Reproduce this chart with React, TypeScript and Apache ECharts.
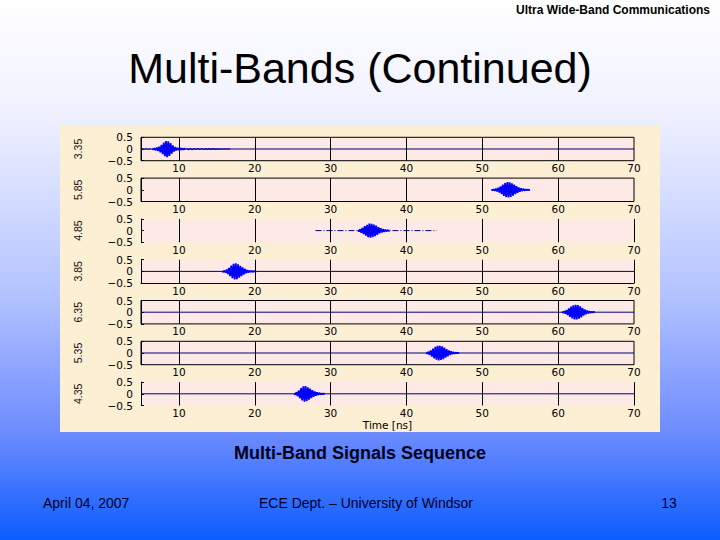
import React, { useEffect, useRef } from "react";
import * as echarts from "echarts";

// ---------- data ----------
const X_MIN = 5;
const X_MAX = 70;
const GRID_X = [10, 20, 30, 40, 50, 60];
const BAND_LABELS = ["3.35", "5.85", "4.85", "3.85", "6.35", "5.35", "4.35"];

// full zero-line span per subplot (null = none)
const ZERO_SPAN: (number[] | null)[] = [[5, 70], null, null, [5, 70], [5, 70], [5, 70], [5, 70]];
// dash-dot segment of subplot 3
const DASH_SPAN = [28, 44];

const PULSE_STEP = 0.15;
const PULSE_START = [6.5, 51.2, 33.6, 15.7, 60.5, 42.6, 25.2];
const PULSE_VALUES: number[][] = [
  [0.02, -0.03, 0.03, -0.05, 0.06, -0.08, 0.1, -0.14, 0.18, -0.22, 0.27, -0.31, 0.34, -0.35, 0.33, -0.3, 0.25, -0.2, 0.15, -0.11, 0.08, -0.06, 0.05, -0.04, 0.04, -0.03, 0.03, -0.03, 0.02, -0.02],
  [0.01, -0.02, 0.02, -0.04, 0.05, -0.07, 0.09, -0.12, 0.15, -0.19, 0.22, -0.26, 0.29, -0.31, 0.33, -0.33, 0.32, -0.3, 0.28, -0.25, 0.22, -0.19, 0.16, -0.13, 0.1, -0.08, 0.06, -0.05, 0.04, -0.03, 0.02, -0.02, 0.01, -0.01, 0],
  [0.02, -0.04, 0.06, -0.09, 0.12, -0.15, 0.19, -0.22, 0.25, -0.28, 0.3, -0.3, 0.29, -0.28, 0.26, -0.24, 0.21, -0.18, 0.15, -0.12, 0.1, -0.08, 0.06, -0.05, 0.04, -0.03, 0.02, -0.01, 0],
  [0.01, -0.02, 0.03, -0.05, 0.08, -0.11, 0.15, -0.2, 0.25, -0.29, 0.32, -0.34, 0.35, -0.33, 0.3, -0.27, 0.24, -0.2, 0.17, -0.14, 0.11, -0.08, 0.06, -0.05, 0.04, -0.03, 0.02, -0.02, 0.01, -0.01, 0],
  [0.01, -0.02, 0.04, -0.06, 0.09, -0.12, 0.16, -0.2, 0.24, -0.27, 0.29, -0.31, 0.32, -0.31, 0.3, -0.28, 0.25, -0.22, 0.18, -0.15, 0.12, -0.09, 0.07, -0.05, 0.04, -0.03, 0.02, -0.015, 0.01, 0],
  [0.02, -0.03, 0.05, -0.08, 0.11, -0.15, 0.19, -0.23, 0.26, -0.29, 0.31, -0.32, 0.31, -0.3, 0.28, -0.26, 0.23, -0.2, 0.17, -0.14, 0.11, -0.09, 0.07, -0.05, 0.04, -0.03, 0.02, -0.01, 0.01, 0],
  [0.02, -0.04, 0.07, -0.1, 0.14, -0.19, 0.24, -0.28, 0.32, -0.34, 0.33, -0.31, 0.28, -0.25, 0.22, -0.19, 0.16, -0.13, 0.1, -0.08, 0.06, -0.05, 0.04, -0.03, 0.02, -0.02, 0.01, 0],
];

// subplot 1 low-level ringing before and after the pulse
const LEAD_START = 5.1;
const LEAD_STEP = 0.3;
const LEAD_VALUES = [0.01, -0.015, 0.01, -0.02, 0.015];
const TAIL_START = 11.0;
const TAIL_STEP = 0.25;
const TAIL_VALUES = [0.03, -0.03, 0.025, -0.03, 0.02, -0.025, 0.02, -0.02, 0.02, -0.02, 0.015, -0.02, 0.015, -0.015, 0.015, -0.015, 0.01, -0.015, 0.01, -0.01, 0.01, -0.01, 0.01, -0.005];

const TITLE = "Multi-Bands (Continued)";
const HEADER = "Ultra Wide-Band Communications";
const CAPTION = "Multi-Band Signals Sequence";
const FOOT_DATE = "April 04, 2007";
const FOOT_DEPT = "ECE Dept. – University of Windsor";
const FOOT_PAGE = "13";
const X_NAME = "Time [ns]";

// ---------- layout / style ----------
const FRAME = ["box", "box", "open", "bottom", "box", "box", "open"];
const GRID_LEFT = 141;
const GRID_RIGHT_EDGE = 634;
const GRID_TOP0 = 137.3;
const GRID_PITCH = 40.8;
const GRID_H = 23.4;
const AXIS_FONT = "DejaVu Sans";

function sampled(start: number, step: number, vals: number[]) {
  return vals.map((v, i) => [+(start + i * step).toFixed(3), v]);
}

export default function App() {
  const ref = useRef<HTMLDivElement>(null);
  useEffect(() => {
    if (!ref.current) return;
    const chart = echarts.init(ref.current, undefined, { renderer: "svg" });

    const grids: any[] = [];
    const xAxes: any[] = [];
    const yAxes: any[] = [];
    const series: any[] = [];

    for (let i = 0; i < 7; i++) {
      const frame = FRAME[i];
      grids.push({
        left: GRID_LEFT,
        width: GRID_RIGHT_EDGE - GRID_LEFT,
        top: GRID_TOP0 + i * GRID_PITCH,
        height: GRID_H,
        show: true,
        backgroundColor: "#fde9e5",
        borderColor: "#000",
        borderWidth: frame === "box" ? 1 : 0,
      });
      xAxes.push({
        type: "value",
        gridIndex: i,
        min: X_MIN,
        max: X_MAX,
        interval: 5,
        axisLine: { show: frame === "bottom", onZero: false, lineStyle: { color: "#000", width: 1 } },
        axisTick: { show: false },
        splitLine: { show: false },
        axisLabel: {
          color: "#000",
          fontFamily: AXIS_FONT,
          fontSize: 10.5,
          margin: 2,
          formatter: (v: number) => (v % 10 === 0 ? String(v) : ""),
        },
        name: i === 6 ? X_NAME : "",
        nameLocation: "middle",
        nameGap: 14,
        nameTextStyle: { color: "#000", fontFamily: AXIS_FONT, fontSize: 10.5 },
      });
      yAxes.push({
        type: "value",
        gridIndex: i,
        min: -0.5,
        max: 0.5,
        interval: 0.5,
        axisLine: { show: true, onZero: false, lineStyle: { color: "#000", width: 1 } },
        axisTick: { show: true, inside: true, length: 3, lineStyle: { color: "#000" } },
        splitLine: { show: false },
        axisLabel: {
          color: "#000",
          fontFamily: AXIS_FONT,
          fontSize: 10.5,
          margin: 8,
          formatter: (v: number) => String(v).replace("-", "\u2212"),
        },
        name: BAND_LABELS[i],
        nameLocation: "middle",
        nameRotate: 90,
        nameGap: 58,
        nameTextStyle: { color: "#111", fontFamily: "Liberation Sans Narrow, Liberation Sans", fontSize: 10.5 },
      });

      // vertical grid lines (and right edge for open frames)
      const vlines = frame === "box" ? GRID_X : [...GRID_X, X_MAX];
      series.push({
        type: "line",
        xAxisIndex: i,
        yAxisIndex: i,
        data: [[X_MIN, 0]],
        symbol: "none",
        lineStyle: { opacity: 0 },
        silent: true,
        z: 1,
        markLine: {
          silent: true,
          symbol: ["none", "none"],
          label: { show: false },
          lineStyle: { color: "#000", width: 1, type: "solid" },
          data: vlines.map((x) => ({ xAxis: x })),
        },
      });

      const span = ZERO_SPAN[i];
      if (span) {
        series.push({
          type: "line",
          xAxisIndex: i,
          yAxisIndex: i,
          data: [[span[0], 0], [span[1], 0]],
          symbol: "none",
          lineStyle: { color: "#00007a", width: 1 },
          z: 2,
        });
      }
      if (i === 2) {
        series.push({
          type: "line",
          xAxisIndex: i,
          yAxisIndex: i,
          data: [[DASH_SPAN[0], 0], [DASH_SPAN[1], 0]],
          symbol: "none",
          lineStyle: { color: "#00007a", width: 1, type: [6, 2, 1, 2] },
          z: 2,
        });
      }
      if (i === 0) {
        series.push({
          type: "line",
          xAxisIndex: 0,
          yAxisIndex: 0,
          data: sampled(LEAD_START, LEAD_STEP, LEAD_VALUES),
          symbol: "none",
          lineStyle: { color: "#0000c8", width: 1 },
          z: 3,
        });
        series.push({
          type: "line",
          xAxisIndex: 0,
          yAxisIndex: 0,
          data: sampled(TAIL_START, TAIL_STEP, TAIL_VALUES),
          symbol: "none",
          lineStyle: { color: "#0000c8", width: 1.2 },
          z: 3,
        });
      }
      series.push({
        type: "line",
        xAxisIndex: i,
        yAxisIndex: i,
        data: sampled(PULSE_START[i], PULSE_STEP, PULSE_VALUES[i]),
        symbol: "none",
        lineStyle: { color: "#0000ff", width: 1.8 },
        areaStyle: { color: "#0000ff", opacity: 1, origin: 0 },
        z: 4,
      });
    }

    const textFont = "Liberation Sans, Arial, sans-serif";
    chart.setOption({
      animation: false,
      graphic: [
        {
          type: "rect",
          z: -20,
          shape: { x: 0, y: 0, width: 720, height: 540 },
          style: {
            fill: new echarts.graphic.LinearGradient(0, 0, 0, 1, [
              { offset: 0, color: "#ffffff" },
              { offset: 0.22, color: "#eef0ff" },
              { offset: 0.55, color: "#b2c2ff" },
              { offset: 0.8, color: "#6e8cff" },
              { offset: 1, color: "#0a5cff" },
            ]),
          },
        },
        {
          type: "rect",
          z: -10,
          shape: { x: 60, y: 125, width: 600, height: 307 },
          style: { fill: "#fcefd3" },
        },
        {
          type: "text",
          right: 10,
          top: 4,
          style: { text: HEADER, font: "bold 12px Liberation Sans, Arial, sans-serif", fill: "#000" },
        },
        {
          type: "text",
          x: 360,
          y: 68,
          style: { text: TITLE, font: `43px ${textFont}`, fill: "#000", align: "center", verticalAlign: "middle" },
        },
        {
          type: "text",
          x: 360,
          y: 453,
          style: { text: CAPTION, font: `bold 18px ${textFont}`, fill: "#000018", align: "center", verticalAlign: "middle" },
        },
        {
          type: "text",
          x: 43,
          y: 503,
          style: { text: FOOT_DATE, font: `14px ${textFont}`, fill: "#000028", align: "left", verticalAlign: "middle" },
        },
        {
          type: "text",
          x: 366,
          y: 503,
          style: { text: FOOT_DEPT, font: `14px ${textFont}`, fill: "#000028", align: "center", verticalAlign: "middle" },
        },
        {
          type: "text",
          x: 669,
          y: 503,
          style: { text: FOOT_PAGE, font: `14px ${textFont}`, fill: "#000028", align: "center", verticalAlign: "middle" },
        },
      ],
      grid: grids,
      xAxis: xAxes,
      yAxis: yAxes,
      series,
    });
    return () => chart.dispose();
  }, []);
  return (
    <div
      ref={ref}
      style={{ position: "absolute", left: 0, top: 0, width: 720, height: 540 }}
    />
  );
}
